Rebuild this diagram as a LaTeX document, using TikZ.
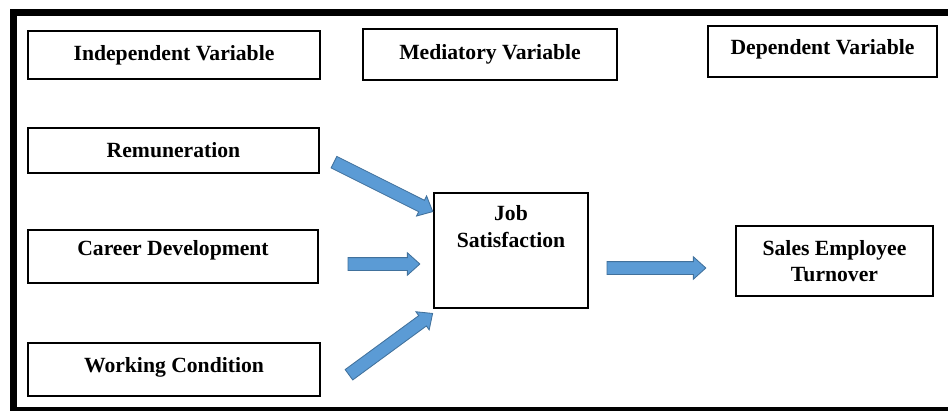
\documentclass[tikz,border=0pt]{standalone}
\usepackage{fontspec}
\setmainfont{Liberation Serif}
\usetikzlibrary{shapes.arrows,calc}

\definecolor{flowblue}{HTML}{5B9BD5}
\definecolor{flowedge}{HTML}{41719C}

\tikzset{
  varbox/.style={draw, line width=0.8pt, inner sep=0pt, align=center,
    font=\fontsize{15.4}{19}\selectfont\bfseries},
  vartext/.style={inner sep=0pt, align=center,
    font=\fontsize{15.4}{19}\selectfont\bfseries},
  flow/.style={single arrow, draw=flowedge, fill=flowblue, line width=0.6pt,
    inner xsep=0pt, inner ysep=0.15cm, single arrow head extend=0.12cm,
    single arrow tip angle=84, anchor=tail}
}

% block arrow from #1 (tail) to #2 (tip)
\newcommand\flowarrow[2]{%
  \path let \p1=($(#2)-(#1)$), \n1={atan2(\y1,\x1)}, \n2={veclen(\x1,\y1)} in
    node[flow, rotate=\n1, minimum height=\n2] at (#1) {};}

\begin{document}
\begin{tikzpicture}[x=0.025cm, y=0.025cm]

  \clip (0,0) rectangle (948,410);
  \fill[white] (0,0) rectangle (948,410);

  % frame (right side runs off the page)
  \draw[line width=0.175cm] (990,397.5) -- (13.5,397.5) -- (13.5,-0.5) -- (990,-0.5);

  % column headings
  \node[varbox, minimum width=7.3cm, minimum height=1.2cm] (indep) at (174,355) {Independent Variable};
  \node[varbox, minimum width=6.35cm, minimum height=1.275cm] (medi) at (490,355.5) {Mediatory Variable};
  \node[varbox, minimum width=5.725cm, minimum height=1.275cm, text depth=6pt] (dep) at (822.5,358.5) {Dependent Variable};

  % independent variables
  \node[varbox, minimum width=7.275cm, minimum height=1.125cm] (rem) at (173.5,259.5) {Remuneration};
  \node[varbox, minimum width=7.25cm, minimum height=1.325cm, text depth=12pt] (car) at (173,153.5) {Career Development};
  \node[varbox, minimum width=7.3cm, minimum height=1.325cm, text depth=6pt] (work) at (174,40.5) {Working Condition};

  % mediator
  \node[varbox, minimum width=3.85cm, minimum height=2.875cm] (job) at (511,159.5) {};
  \node[vartext, anchor=north] (jobtext) at ([yshift=-9]job.north) {Job\\Satisfaction};

  % dependent
  \node[varbox, minimum width=4.925cm, minimum height=1.75cm] (sales) at (834.5,149) {Sales Employee\\Turnover};

  % arrow ends
  \coordinate (remtail) at ([shift={(14,-11.5)}]rem.east);
  \coordinate (remtip) at ([shift={(-1,-19)}]job.north west);
  \coordinate (cartail) at ([shift={(29,-7.5)}]car.east);
  \coordinate (cartip) at ([shift={(-14,-13.5)}]job.west);
  \coordinate (worktail) at ([shift={(28,-5.5)}]work.east);
  \coordinate (worktip) at ([shift={(-1,-5)}]job.south west);
  \coordinate (jobtail) at ([shift={(18,-17.5)}]job.east);
  \coordinate (jobtip) at ([shift={(-30,-7)}]sales.west);

  \flowarrow{remtail}{remtip}
  \flowarrow{cartail}{cartip}
  \flowarrow{worktail}{worktip}
  \flowarrow{jobtail}{jobtip}

\end{tikzpicture}
\end{document}
